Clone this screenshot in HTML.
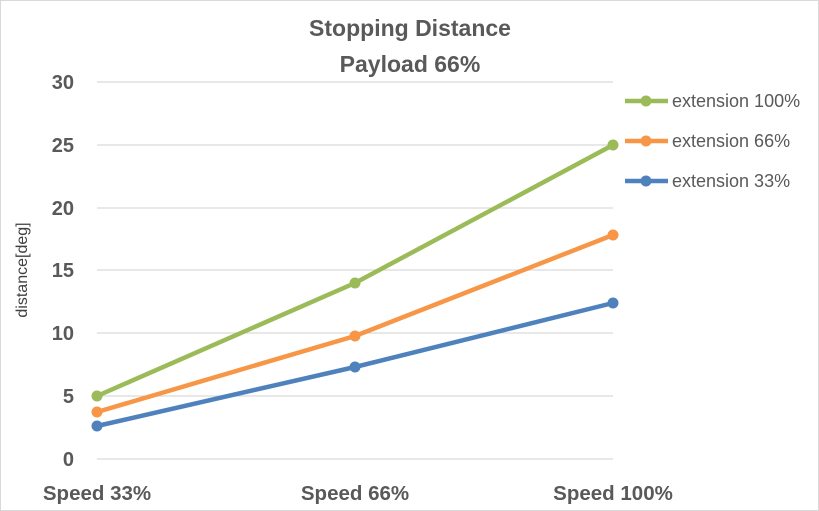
<!DOCTYPE html><html><head><style>body{margin:0;background:#fff}svg{display:block}</style></head><body>
<svg width="819" height="511" xmlns="http://www.w3.org/2000/svg" font-family="Liberation Sans, sans-serif">
<rect x="0.5" y="0.5" width="818" height="510" fill="#fff" stroke="#d9d9d9"/>
<g stroke="#d9d9d9" stroke-width="1.3">
<line x1="97" x2="613" y1="459" y2="459"/><line x1="97" x2="613" y1="396" y2="396"/><line x1="97" x2="613" y1="333" y2="333"/><line x1="97" x2="613" y1="270" y2="270"/><line x1="97" x2="613" y1="208" y2="208"/><line x1="97" x2="613" y1="145" y2="145"/><line x1="97" x2="613" y1="82" y2="82"/></g>
<g font-size="20" font-weight="bold" fill="#595959" text-anchor="end">
<text x="74" y="466">0</text><text x="74" y="403">5</text><text x="74" y="340">10</text><text x="74" y="277">15</text><text x="74" y="215">20</text><text x="74" y="152">25</text><text x="74" y="89">30</text></g>
<g font-size="20.5" font-weight="bold" fill="#595959" text-anchor="middle">
<text x="97" y="500">Speed 33%</text><text x="355" y="500">Speed 66%</text><text x="613" y="500">Speed 100%</text>
<text x="410" y="36" font-size="23">Stopping Distance</text><text x="410" y="72" font-size="23">Payload 66%</text></g>
<text transform="translate(27,270) rotate(-90)" font-size="16" fill="#404040" text-anchor="middle">distance[deg]</text>
<g stroke-width="4.5" fill="none">
<polyline points="97,396 355,283 613,145" stroke="#9bbb59"/>
<polyline points="97,412 355,336 613,235" stroke="#f79646"/>
<polyline points="97,426 355,367 613,303" stroke="#4f81bd"/></g>
<g fill="#9bbb59"><circle cx="97" cy="396" r="5.5"/><circle cx="355" cy="283" r="5.5"/><circle cx="613" cy="145" r="5.5"/></g>
<g fill="#f79646"><circle cx="97" cy="412" r="5.5"/><circle cx="355" cy="336" r="5.5"/><circle cx="613" cy="235" r="5.5"/></g>
<g fill="#4f81bd"><circle cx="97" cy="426" r="5.5"/><circle cx="355" cy="367" r="5.5"/><circle cx="613" cy="303" r="5.5"/></g>
<g stroke-width="4.5"><line x1="625" x2="668" y1="101" y2="101" stroke="#9bbb59"/><line x1="625" x2="668" y1="141" y2="141" stroke="#f79646"/><line x1="625" x2="668" y1="181" y2="181" stroke="#4f81bd"/></g>
<circle cx="646" cy="101" r="5.5" fill="#9bbb59"/><circle cx="646" cy="141" r="5.5" fill="#f79646"/><circle cx="646" cy="181" r="5.5" fill="#4f81bd"/>
<g font-size="18" fill="#595959"><text x="672" y="107">extension 100%</text><text x="672" y="147">extension 66%</text><text x="672" y="187">extension 33%</text></g>
</svg></body></html>
